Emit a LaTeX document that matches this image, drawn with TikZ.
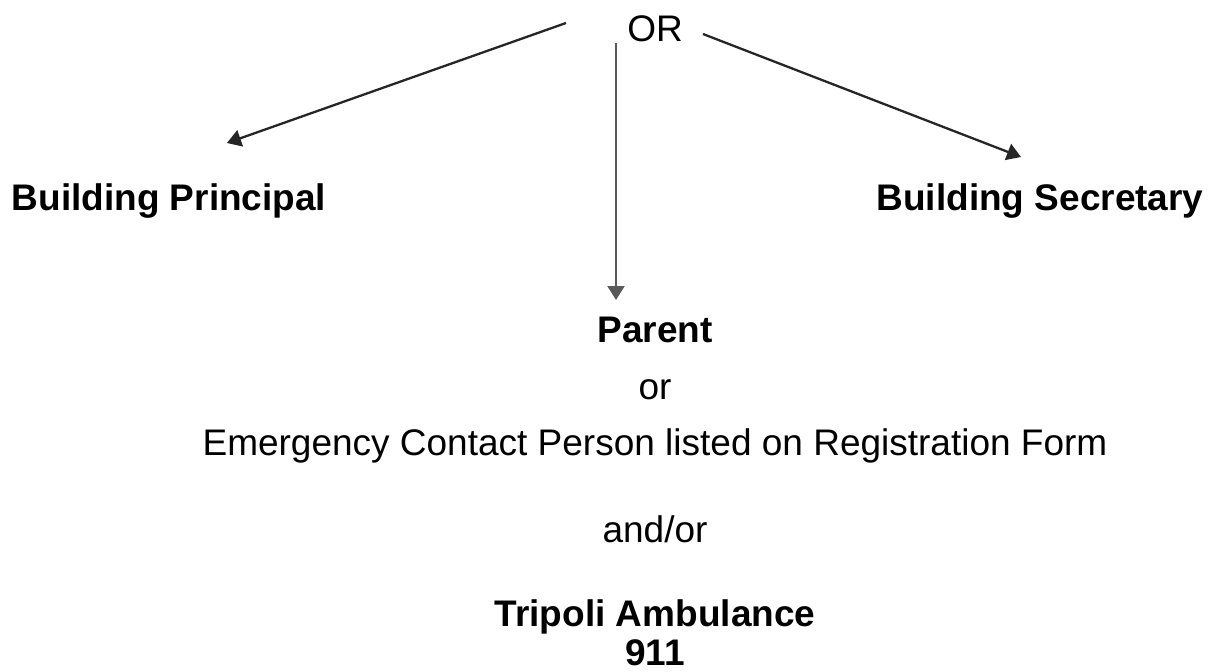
\documentclass[tikz,border=0pt]{standalone}
\usepackage{fontspec}
\setmainfont{Liberation Sans}
\usetikzlibrary{arrows.meta}
\begin{document}
\begin{tikzpicture}[x=1pt,y=-1pt,
  lbl/.style={anchor=base,inner sep=0pt,font=\fontsize{37}{44}\selectfont},
  blbl/.style={lbl,font=\fontsize{37}{44}\selectfont\bfseries},
  conn/.style={line width=2.3pt,draw=black!85,-{Triangle[length=14pt,width=17pt]}}]
\useasboundingbox (0,0) rectangle (1211,672);
\node[lbl] (or) at (655,41) {OR};
\node[blbl] (bp) at (169,210) {Building Principal};
\node[blbl] (bs) at (1040,210) {Building Secretary};
\node[blbl] (parent) at (655,342) {Parent};
\node[lbl] (or2) at (655,399) {or};
\node[lbl] (ecp) at (655,455) {Emergency Contact Person listed on Registration Form};
\node[lbl] (andor) at (655,542) {and/or};
\node[blbl] (tri) at (655,626) {Tripoli Ambulance};
\node[blbl] (n911) at (655,665) {911};
\coordinate (sl) at (566,23);
\coordinate (tl) at (227,143);
\coordinate (sr) at (703,34);
\coordinate (tr) at (1021,157);
\coordinate (sv) at (616,43);
\coordinate (tv) at (616,300);
\draw[conn] (sl) -- (tl);
\draw[conn] (sr) -- (tr);
\draw[conn,draw=black!65,fill=black] (sv) -- (tv);
\end{tikzpicture}
\end{document}
